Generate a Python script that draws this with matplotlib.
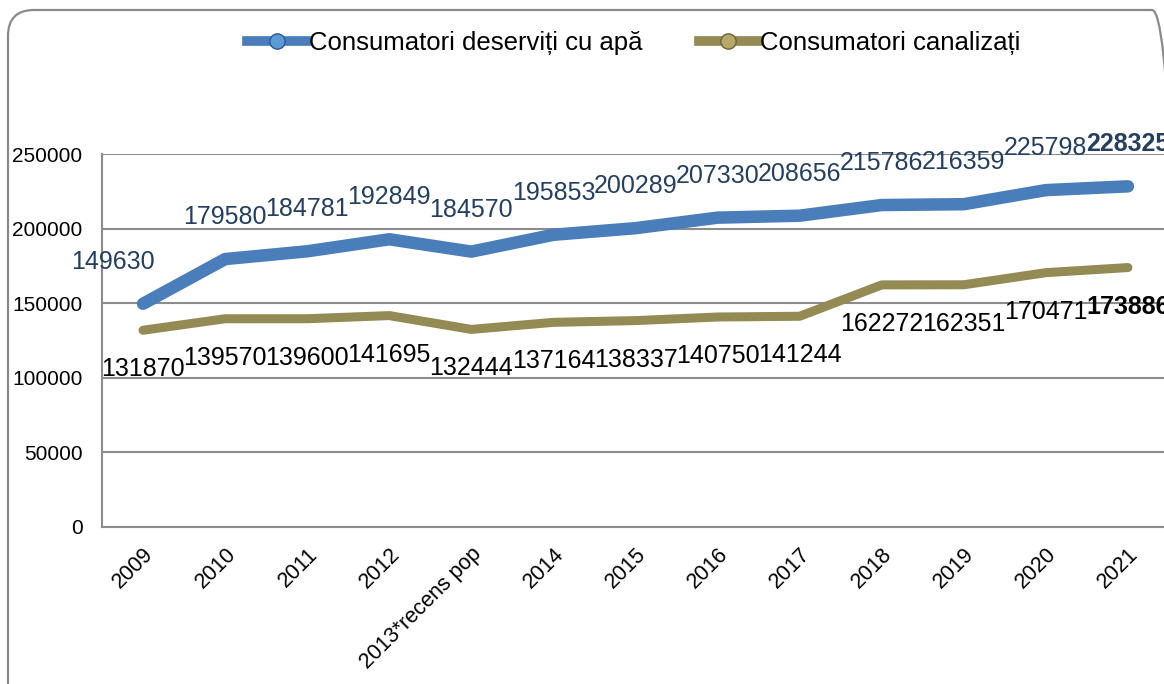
import matplotlib
matplotlib.use("Agg")
import matplotlib.pyplot as plt
from matplotlib.lines import Line2D
from matplotlib.patches import FancyBboxPatch
from matplotlib.transforms import IdentityTransform, ScaledTranslation

plt.rcParams['font.family'] = ['Liberation Sans', 'DejaVu Sans']

categories = ["2009", "2010", "2011", "2012", "2013*recens pop", "2014", "2015",
              "2016", "2017", "2018", "2019", "2020", "2021"]
apa = [149630, 179580, 184781, 192849, 184570, 195853, 200289, 207330, 208656,
       215786, 216359, 225798, 228325]
canal = [131870, 139570, 139600, 141695, 132444, 137164, 138337, 140750, 141244,
         162272, 162351, 170471, 173886]
yticks = [0, 50000, 100000, 150000, 200000, 250000]
series_names = ["Consumatori deserviți cu apă", "Consumatori canalizați"]

blue = "#4A7EBB"
olive = "#948A54"
blue_txt = "#243F60"
grid_c = "#8C8C8C"

W, H = 1164, 684
fig = plt.figure(figsize=(W / 100, H / 100), dpi=100)

# rounded chart border (partially cropped), in pixel coordinates
border = FancyBboxPatch((8, -60), 1170, (H - 10) + 60,
                        boxstyle="round,pad=0,rounding_size=26",
                        transform=IdentityTransform(), fill=False,
                        edgecolor="#8A8A8A", linewidth=1.6, clip_on=False)
fig.patches.append(border)

left, right = 102 / W, 1169 / W
bottom, top = 1 - 527 / H, 1 - 154 / H
ax = fig.add_axes([left, bottom, right - left, top - bottom])
ax.set_facecolor("none")

x = list(range(len(categories)))
ax.plot(x, apa, color=blue, linewidth=9, solid_capstyle="round",
        solid_joinstyle="round", zorder=3)
ax.plot(x, canal, color=olive, linewidth=6.5, solid_capstyle="round",
        solid_joinstyle="round", zorder=3)

ax.set_xlim(-0.5, len(categories) - 0.5)
ax.set_ylim(0, 250000)
ax.set_yticks(yticks)
ax.set_yticklabels([str(v) for v in yticks], fontsize=15)
ax.set_xticks(x)
ax.set_xticklabels(categories, fontsize=15.5, rotation=45, ha="right",
                   rotation_mode="anchor")
shift = ScaledTranslation(-7 / 100, 2 / 100, fig.dpi_scale_trans)
for lbl in ax.get_xticklabels():
    lbl.set_transform(lbl.get_transform() + shift)
ax.tick_params(axis="both", length=0)
ax.tick_params(axis="y", pad=14)
ax.tick_params(axis="x", pad=12)
ax.yaxis.grid(True, color=grid_c, linewidth=1.5)
ax.set_axisbelow(True)
for s in ["top", "right"]:
    ax.spines[s].set_visible(False)
for s in ["left", "bottom"]:
    ax.spines[s].set_color(grid_c)
    ax.spines[s].set_linewidth(1.5)

last = len(categories) - 1
for i, v in enumerate(apa):
    dx = -30 if i == 0 else 0
    ax.annotate(str(v), (i, v), xytext=(dx, 42), textcoords="offset pixels",
                ha="center", va="center", fontsize=18, color=blue_txt,
                fontweight="bold" if i == last else "normal", zorder=5,
                annotation_clip=False)
for i, v in enumerate(canal):
    ax.annotate(str(v), (i, v), xytext=(0, -39), textcoords="offset pixels",
                ha="center", va="center", fontsize=18, color="black",
                fontweight="bold" if i == last else "normal", zorder=5,
                annotation_clip=False)

handles = [
    Line2D([], [], color=blue, linewidth=7, marker="o", markersize=11,
           markerfacecolor="#5B9BD5", markeredgecolor="#2F5597"),
    Line2D([], [], color=olive, linewidth=7, marker="o", markersize=11,
           markerfacecolor="#B5A96A", markeredgecolor="#6B6238"),
]
fig.legend(handles, series_names, loc="center", ncol=2,
           bbox_to_anchor=(634 / W, 1 - 43 / H), frameon=False, fontsize=18.5,
           handlelength=2.3, handletextpad=0.1, columnspacing=2.2)

fig.savefig("out.png", dpi=100)
